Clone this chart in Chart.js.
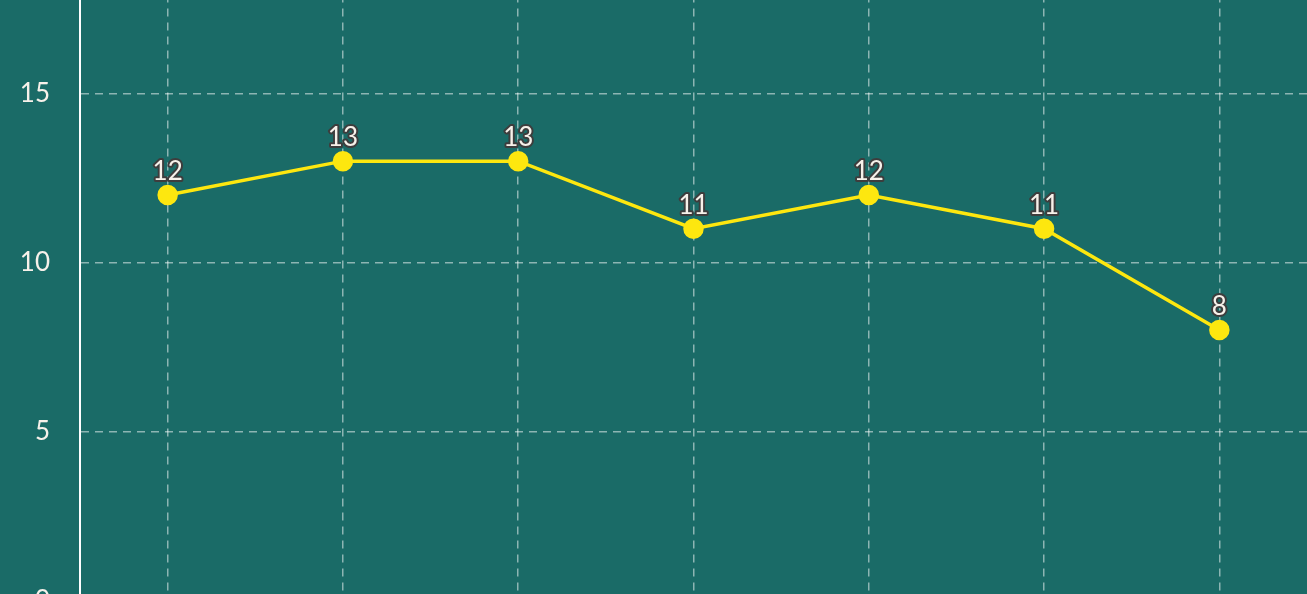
<!DOCTYPE html>
<html>
<head>
<meta charset="utf-8">
<script src="https://cdn.jsdelivr.net/npm/chart.js@4"></script>
<style>
  html, body { margin: 0; padding: 0; background: #1a6b67; overflow: hidden; }
  #chart { position: absolute; left: 0; top: -121px; }
</style>
</head>
<body>
<canvas id="chart" width="1307" height="767"></canvas>
<script>
const categories = ['1', '2', '3', '4', '5', '6', '7'];
const values = [12, 13, 13, 11, 12, 11, 8];
const yTicks = [0, 5, 10, 15, 20];

// labels above each point, white with a dark outline
const pointLabels = {
    id: 'pointLabels',
    afterDatasetsDraw(chart) {
        const ctx = chart.ctx;
        const meta = chart.getDatasetMeta(0);
        ctx.save();
        ctx.font = "26px Lato";
        ctx.textAlign = 'center';
        ctx.textBaseline = 'alphabetic';
        ctx.lineJoin = 'round';
        meta.data.forEach((pt, i) => {
            const txt = String(values[i]);
            ctx.lineWidth = 4;
            ctx.strokeStyle = '#3d3d3d';
            ctx.strokeText(txt, pt.x, pt.y - 15);
            ctx.fillStyle = '#f7f1ea';
            ctx.fillText(txt, pt.x, pt.y - 15);
        });
        ctx.restore();
    }
};

const chart = new Chart(document.getElementById('chart'), {
    type: 'line',
    data: {
        labels: categories,
        datasets: [{
            data: values,
            borderColor: '#fde70f',
            backgroundColor: '#fde70f',
            borderWidth: 3.5,
            pointRadius: 8.5,
            pointHoverRadius: 8.5,
            tension: 0,
        }]
    },
    options: {
        responsive: false,
        animation: false,
        layout: { padding: 0, autoPadding: false },
        plugins: {
            legend: { display: false },
            tooltip: { enabled: false }
        },
        scales: {
            x: {
                offset: true,
                grid: {
                    color: 'rgba(255,255,255,0.5)',
                    lineWidth: 1.5,
                    drawTicks: false
                },
                border: { display: false, dash: [8, 6] },
                ticks: { display: false }
            },
            y: {
                min: 0,
                max: 20,
                afterBuildTicks: scale => { scale.ticks = yTicks.map(v => ({ value: v })); },
                afterFit: scale => { scale.width = 80; },
                grid: {
                    color: 'rgba(255,255,255,0.5)',
                    lineWidth: 1.5,
                    drawTicks: false
                },
                border: { color: '#ffffff', width: 2, dash: [8, 6] },
                ticks: {
                    padding: 30,
                    color: '#f7f1ea',
                    font: { family: 'Lato', size: 26 }
                }
            }
        }
    },
    plugins: [pointLabels]
});
</script>
</body>
</html>
